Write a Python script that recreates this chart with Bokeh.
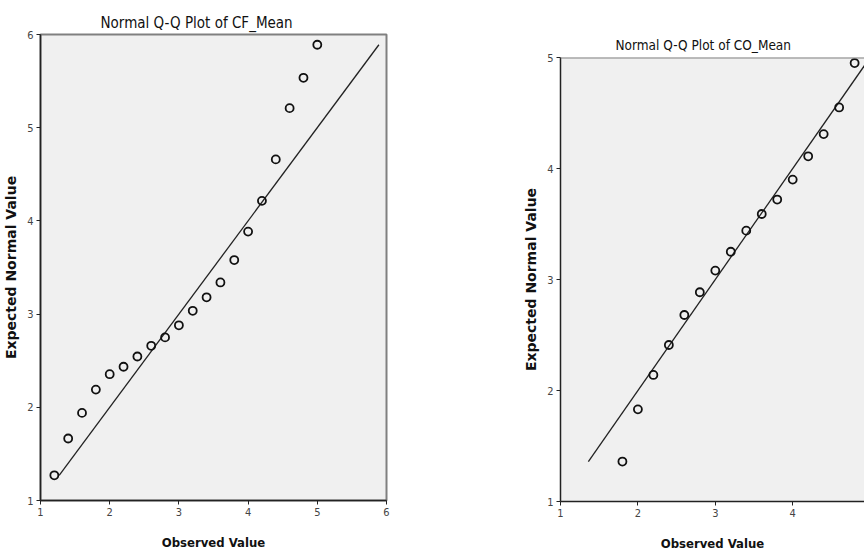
from bokeh.plotting import figure
from bokeh.layouts import row, column
from bokeh.models import Range1d, Span, FixedTicker
from bokeh.embed import file_html
from bokeh.resources import INLINE

# ---- data ----
cf_observed = [1.2, 1.4, 1.6, 1.8, 2.0, 2.2, 2.4, 2.6, 2.8, 3.0,
               3.2, 3.4, 3.6, 3.8, 4.0, 4.2, 4.4, 4.6, 4.8, 5.0]
cf_expected = [1.27, 1.665, 1.94, 2.19, 2.355, 2.435, 2.545, 2.66, 2.75, 2.88,
               3.035, 3.18, 3.34, 3.58, 3.885, 4.215, 4.66, 5.21, 5.535, 5.89]

co_observed = [1.8, 2.0, 2.2, 2.4, 2.6, 2.8, 3.0, 3.2, 3.4, 3.6,
               3.8, 4.0, 4.2, 4.4, 4.6, 4.8]
co_expected = [1.36, 1.83, 2.14, 2.41, 2.68, 2.885, 3.08, 3.25, 3.44, 3.59,
               3.72, 3.90, 4.11, 4.31, 4.55, 4.95]

cf_ticks = [1, 2, 3, 4, 5, 6]
co_xticks = [1, 2, 3, 4, 5]
co_yticks = [1, 2, 3, 4, 5]

cf_title = "Normal Q-Q Plot of CF_Mean"
co_title = "Normal Q-Q Plot of CO_Mean"

NARROW = "Liberation Sans Narrow, Arial Narrow, DejaVu Sans Condensed, sans-serif"
BG = "#f0f0f0"


def style(p, xticks, yticks, title_size, title_offset, title_standoff):
    p.background_fill_color = BG
    p.border_fill_color = "white"
    p.xgrid.visible = False
    p.ygrid.visible = False
    p.xaxis.ticker = FixedTicker(ticks=xticks)
    p.yaxis.ticker = FixedTicker(ticks=yticks)
    for ax in (p.xaxis[0], p.yaxis[0]):
        ax.axis_line_color = "#222222"
        ax.axis_line_width = 1.5
        ax.major_tick_line_color = "#222222"
        ax.major_tick_out = 4
        ax.major_tick_in = 0
        ax.minor_tick_line_color = None
        ax.major_label_text_font = NARROW
        ax.major_label_text_font_size = "11px"
        ax.major_label_text_color = "#444444"
        ax.major_label_standoff = 3
    p.xaxis.axis_label = "Observed Value"
    p.xaxis.axis_label_text_font = NARROW
    p.xaxis.axis_label_text_font_size = "13px"
    p.xaxis.axis_label_text_font_style = "bold"
    p.xaxis.axis_label_text_color = "#111111"
    p.xaxis.axis_label_standoff = 16
    p.yaxis.axis_label = "Expected Normal Value"
    p.yaxis.axis_label_text_font = "DejaVu Sans"
    p.yaxis.axis_label_text_font_size = "14px"
    p.yaxis.axis_label_text_font_style = "bold"
    p.yaxis.axis_label_text_color = "#111111"
    p.yaxis.axis_label_standoff = 5
    p.title.text_font = NARROW
    p.title.text_font_size = title_size
    p.title.text_font_style = "normal"
    p.title.text_color = "#111111"
    p.title.align = "left"
    p.title.offset = title_offset
    p.title.standoff = title_standoff


# ---- left: CF_Mean ----
p1 = figure(width=432, height=553, output_backend="svg", toolbar_location=None,
            x_range=Range1d(1, 6), y_range=Range1d(1, 6), title=cf_title,
            min_border_left=40, min_border_right=46,
            min_border_top=34, min_border_bottom=53)
style(p1, cf_ticks, cf_ticks, "15px", 60, 6)
p1.outline_line_color = "#808080"
p1.outline_line_width = 2
p1.line([min(cf_expected), max(cf_expected)], [min(cf_expected), max(cf_expected)],
        line_color="#222222", line_width=1.3)
p1.scatter(cf_observed, cf_expected, marker="circle", size=8, fill_color=None,
           line_color="#111111", line_width=1.8)

# ---- right: CO_Mean ----
p2 = figure(width=432, height=553, output_backend="svg", toolbar_location=None,
            x_range=Range1d(1, 1 + 304 / 77.4), y_range=Range1d(1, 5), title=co_title,
            min_border_left=128, min_border_right=0,
            min_border_top=57, min_border_bottom=49)
style(p2, co_xticks, co_yticks, "13.5px", 55, 9)
p2.outline_line_color = None
p2.add_layout(Span(location=co_yticks[-1], dimension="width",
                   line_color="#808080", line_width=2))
p2.line([min(co_expected), max(co_expected)], [min(co_expected), max(co_expected)],
        line_color="#222222", line_width=1.3)
p2.scatter(co_observed, co_expected, marker="circle", size=8, fill_color=None,
           line_color="#111111", line_width=1.8)

layout = row(column(p1), column(p2), spacing=0)
open("out.html", "w").write(file_html(layout, INLINE))
